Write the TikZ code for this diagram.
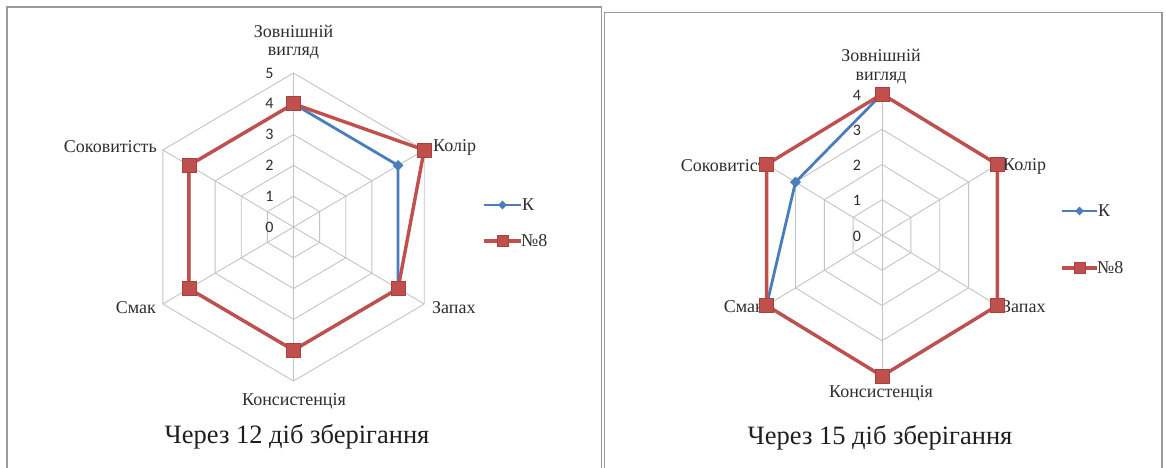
\documentclass[tikz,border=0pt]{standalone}
\usepackage{fontspec}
\setmainfont{Liberation Serif}
\newfontfamily\numfont{Carlito}
\usetikzlibrary{shapes.geometric}
\definecolor{kblue}{HTML}{4A7EBB}
\definecolor{nred}{HTML}{C0504D}
\definecolor{nreddark}{HTML}{A8403D}
\definecolor{gridc}{HTML}{C4C4C4}
\definecolor{framec}{HTML}{9A9A9A}
\definecolor{txtc}{HTML}{2E2E2E}
\tikzset{
  gridline/.style={draw=gridc, line width=0.9pt},
  framebox/.style={draw=framec, line width=1.6pt},
  kline/.style={draw=kblue, line width=2.8pt, line join=round},
  nline/.style={draw=nred, line width=3.4pt, line join=miter},
  kmark/.style={diamond, fill=kblue, inner sep=0pt, minimum width=11pt, minimum height=11pt},
  nmark/.style={rectangle, fill=nred, draw=nreddark, line width=0.6pt, inner sep=0pt, minimum size=14pt},
  lbl/.style={font=\fontsize{18}{20}\selectfont, text=txtc, inner sep=0pt},
  num/.style={font=\numfont\fontsize{16}{18}\selectfont, text=txtc, inner sep=0pt},
  legtxt/.style={font=\fontsize{18}{20}\selectfont, text=txtc, inner sep=0pt, anchor=west},
  captxt/.style={font=\fontsize{26.5}{29}\selectfont, text=black!88, inner sep=0pt}
}
\begin{document}
\begin{tikzpicture}[x=1pt,y=-1pt]
\useasboundingbox (0,0) rectangle (1166,468);
\fill[white] (0,0) rectangle (1166,468);
% panel frames
\draw[framebox] (7,470) -- (7,7) -- (601.5,7) -- (601.5,470);
\draw[framebox] (604.5,470) -- (604.5,12.5) -- (1162,12.5) -- (1162,470);

% ================= LEFT CHART =================
\begin{scope}[shift={(293.5,227)}, xscale=0.98]
  \foreach \r in {1,...,5}
    \draw[gridline] (-90:{\r*30.8}) -- (-30:{\r*30.8}) -- (30:{\r*30.8}) -- (90:{\r*30.8}) -- (150:{\r*30.8}) -- (210:{\r*30.8}) -- cycle;
  \foreach \a in {-90,-30,30,90,150,210}
    \draw[gridline] (0,0) -- (\a:{5*30.8});
  \foreach \v [count=\i from 0] in {4,4,4,4,4,4}
    \coordinate (LK\i) at ({60*\i-90}:{\v*30.8});
  \foreach \v [count=\i from 0] in {4,5,4,4,4,4}
    \coordinate (LN\i) at ({60*\i-90}:{\v*30.8});
\end{scope}
\foreach \k in {0,...,5}
  \node[num] (Lnum\k) at (269.5,{227-\k*30.8}) {\k};
% labels
\node[lbl] (Lzv1) at (293.5,31) {Зовнішній};
\node[lbl] (Lzv2) at (293.5,53) {вигляд};
\node[lbl, anchor=west] (Lkol) at (433,147) {Колір};
\node[lbl, anchor=west] (Lzap) at (432,308) {Запах};
\node[lbl] (Lkon) at (294,401) {Консистенція};
\node[lbl, anchor=east] (Lsmak) at (156,308) {Смак};
\node[lbl, anchor=east] (Lsok) at (157,147) {Соковитість};
% series
\draw[kline] (LK0) -- (LK1) -- (LK2) -- (LK3) -- (LK4) -- (LK5) -- cycle;
\foreach \i in {0,...,5} \node[kmark] (LKm\i) at (LK\i) {};
\draw[nline] (LN0) -- (LN1) -- (LN2) -- (LN3) -- (LN4) -- (LN5) -- cycle;
\foreach \i in {0,...,5} \node[nmark] (LNm\i) at (LN\i) {};
% legend
\coordinate (LlegK1) at (484,205);
\coordinate (LlegK2) at (521,205);
\draw[kline] (LlegK1) -- (LlegK2);
\node[kmark, minimum width=9pt, minimum height=9pt] (LlegKm) at (502.5,205) {};
\node[legtxt] (LlegKt) at (522,205) {К};
\coordinate (LlegN1) at (484,241);
\coordinate (LlegN2) at (521,241);
\draw[nline] (LlegN1) -- (LlegN2);
\node[nmark, minimum size=11pt] (LlegNm) at (502.5,241) {};
\node[legtxt] (LlegNt) at (521,241) {№8};
\node[captxt] (Lcap) at (297,437) {Через 12 діб зберігання};

% ================= RIGHT CHART =================
\begin{scope}[shift={(882,235)}, xscale=0.945]
  \foreach \r in {1,...,4}
    \draw[gridline] (-90:{\r*35.25}) -- (-30:{\r*35.25}) -- (30:{\r*35.25}) -- (90:{\r*35.25}) -- (150:{\r*35.25}) -- (210:{\r*35.25}) -- cycle;
  \foreach \a in {-90,-30,30,90,150,210}
    \draw[gridline] (0,0) -- (\a:{4*35.25});
  \foreach \v [count=\i from 0] in {4,4,4,4,4,3}
    \coordinate (RK\i) at ({60*\i-90}:{\v*35.25});
  \foreach \v [count=\i from 0] in {4,4,4,4,4,4}
    \coordinate (RN\i) at ({60*\i-90}:{\v*35.25});
\end{scope}
\foreach \k in {0,...,4}
  \node[num] (Rnum\k) at (857,{236-\k*35.25}) {\k};
\node[lbl] (Rzv1) at (881,55) {Зовнішній};
\node[lbl] (Rzv2) at (881,78) {вигляд};
\node[lbl, anchor=west] (Rkol) at (1003,166) {Колір};
\node[lbl, anchor=west] (Rzap) at (1002,307) {Запах};
\node[lbl] (Rkon) at (881,393) {Консистенція};
\node[lbl, anchor=east] (Rsmak) at (764,307) {Смак};
\node[lbl, anchor=east] (Rsok) at (774,166) {Соковитість};
\draw[kline] (RK0) -- (RK1) -- (RK2) -- (RK3) -- (RK4) -- (RK5) -- cycle;
\foreach \i in {0,...,5} \node[kmark] (RKm\i) at (RK\i) {};
\draw[nline] (RN0) -- (RN1) -- (RN2) -- (RN3) -- (RN4) -- (RN5) -- cycle;
\foreach \i in {0,...,5} \node[nmark] (RNm\i) at (RN\i) {};
\coordinate (RlegK1) at (1062,211);
\coordinate (RlegK2) at (1097,211);
\draw[kline] (RlegK1) -- (RlegK2);
\node[kmark, minimum width=9pt, minimum height=9pt] (RlegKm) at (1079.5,211) {};
\node[legtxt] (RlegKt) at (1098,211) {К};
\coordinate (RlegN1) at (1062,268);
\coordinate (RlegN2) at (1097,268);
\draw[nline] (RlegN1) -- (RlegN2);
\node[nmark, minimum size=11pt] (RlegNm) at (1079.5,268) {};
\node[legtxt] (RlegNt) at (1097,268) {№8};
\node[captxt] (Rcap) at (880,438) {Через 15 діб зберігання};
\end{tikzpicture}
\end{document}
